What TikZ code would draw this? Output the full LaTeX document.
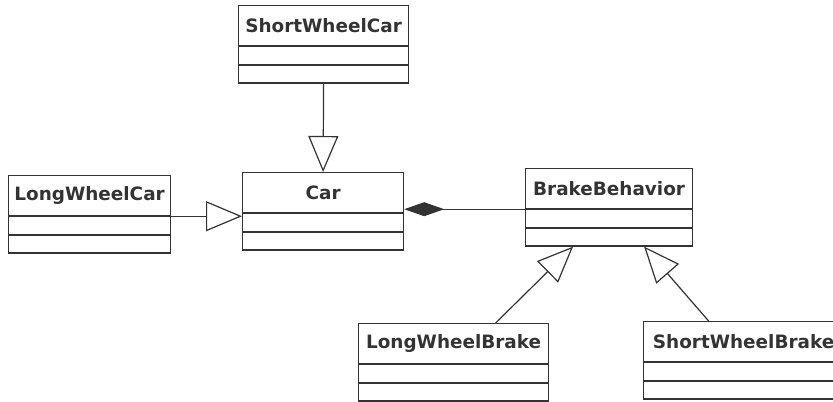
\documentclass[tikz,border=0pt]{standalone}
\usepackage{fontspec}
\setsansfont{DejaVu Sans}
\usepackage{xcolor}
\usepackage{tikz}
\usetikzlibrary{arrows.meta,positioning}

\definecolor{ink}{HTML}{333333}

\begin{document}
\begin{tikzpicture}[x=0.5pt, y=-0.5pt,
  cls/.style={draw=ink, line width=0.6pt, text=ink, anchor=north west,
              font=\sffamily\bfseries\fontsize{9.2}{11}\selectfont,
              minimum width=#1, minimum height=20pt, inner sep=0pt},
  slot/.style={draw=ink, line width=0.6pt, minimum width=#1,
               minimum height=8.75pt, inner sep=0pt},
  inherit/.style={-{Triangle[open, length=18pt, width=15pt]}, draw=ink, line width=0.6pt},
  owns/.style={{Diamond[length=20pt, width=7pt]}-, draw=ink, fill=ink, line width=0.6pt},
]
  \useasboundingbox (0,0) rectangle (833,401);
  \clip (0,0) rectangle (833,401);
  %% car side
  \node[cls=85pt]   (swc) at (238,5)   {ShortWheelCar};
  \node[slot=85pt, below=0pt of swc]   (swc1) {};
  \node[slot=85pt, below=0pt of swc1]  (swc2) {};
  \node[cls=80.5pt] (car) at (242,172) {Car};
  \node[slot=80.5pt, below=0pt of car]  (car1) {};
  \node[slot=80.5pt, below=0pt of car1] (car2) {};
  \node[cls=81pt]   (lwc) at (8,175)   {LongWheelCar};
  \node[slot=81pt, below=0pt of lwc]   (lwc1) {};
  \node[slot=81pt, below=0pt of lwc1]  (lwc2) {};
  %% brake side
  \node[cls=83.5pt] (bb) at (525,168)  {BrakeBehavior};
  \node[slot=83.5pt, below=0pt of bb]  (bb1) {};
  \node[slot=83.5pt, below=0pt of bb1] (bb2) {};
  \node[cls=95pt]   (lwb) at (358,323) {LongWheelBrake};
  \node[slot=95pt, below=0pt of lwb]   (lwb1) {};
  \node[slot=95pt, below=0pt of lwb1]  (lwb2) {};
  \node[cls=100pt]  (swb) at (643,321) {ShortWheelBrake};
  \node[slot=100pt, below=0pt of swb]  (swb1) {};
  \node[slot=100pt, below=0pt of swb1] (swb2) {};
  %% relations
  \draw[inherit] (swc2.south) -- (car.north);
  \draw[inherit] (lwc1.north east) -- (lwc1.north east -| car.west);
  \draw[owns] (bb1.north west -| car1.east) -- (bb1.north west);
  \draw[inherit] ([xshift=21pt]lwb.north) -- ([xshift=-18pt]bb2.south);
  \draw[inherit] ([xshift=-17.5pt]swb.north) -- ([xshift=17.5pt]bb2.south);
\end{tikzpicture}
\end{document}
